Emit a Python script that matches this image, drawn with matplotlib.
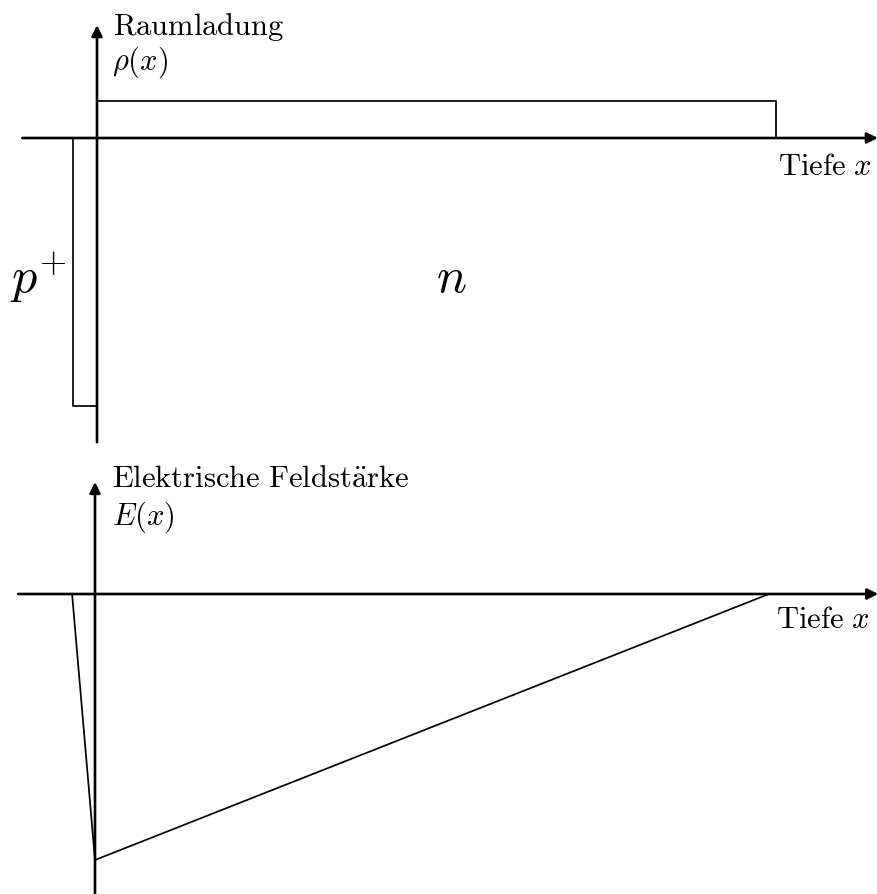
"""Raumladung und Feldstaerke eines p+n-Uebergangs (schematisch)."""
import matplotlib
matplotlib.use("Agg")
import matplotlib.pyplot as plt

plt.rcParams["mathtext.fontset"] = "cm"

# Raumladung rho(x), Tiefe in Einheiten der Weite der n-Zone
rho_n_x = [0.0, 0.0, 1.0, 1.0]
rho_n_y = [0.0, 1.0, 1.0, 0.0]
rho_p_x = [0.0, -0.035, -0.035]
rho_p_y = [-7.24, -7.24, 0.0]

# elektrische Feldstaerke E(x)
feld_x = [-0.034, 0.0, 1.0]
feld_y = [0.0, -1.0, 0.0]

AXIS_LW = 1.9
LINE_LW = 1.25
TXT = 22
BIG = 36


def axis_arrow(ax, start, tip):
    ax.annotate("", xy=tip, xytext=start,
                arrowprops=dict(arrowstyle="-|>", lw=AXIS_LW, color="k",
                                shrinkA=0, shrinkB=0, mutation_scale=16))


fig = plt.figure(figsize=(8.78, 8.94), dpi=100)

# --- oben: Raumladung ---
ax1 = fig.add_axes([0, 1 - 450 / 894, 1, 450 / 894])
ax1.set_xlim(-97 / 679, (878 - 97) / 679)
ax1.set_ylim((138 - 450) / 37, 138 / 37)
ax1.axis("off")
axis_arrow(ax1, (-0.110, 0), (1.150, 0))
axis_arrow(ax1, (0, -8.22), (0, 3.05))
ax1.plot(rho_n_x, rho_n_y, color="k", lw=LINE_LW)
ax1.plot(rho_p_x, rho_p_y, color="k", lw=LINE_LW)
ax1.text(0.024, 2.78, r"$\mathrm{Raumladung}$", fontsize=TXT, va="baseline")
ax1.text(0.022, 1.84, r"$\rho(x)$", fontsize=TXT, va="baseline")
ax1.text(1.003, -1.0, r"$\mathrm{Tiefe}\ x$", fontsize=TXT, va="baseline")
ax1.text(-0.128, -4.19, r"$p^{+}$", fontsize=BIG, va="baseline")
ax1.text(0.50, -4.16, r"$n$", fontsize=BIG, va="baseline")

# --- unten: elektrische Feldstaerke ---
ax2 = fig.add_axes([0, 0, 1, 444 / 894])
ax2.set_xlim(-95 / 674, (878 - 95) / 674)
ax2.set_ylim((594 - 894) / 266, (594 - 450) / 266)
ax2.axis("off")
axis_arrow(ax2, (-0.114, 0), (1.162, 0))
axis_arrow(ax2, (0, -1.128), (0, 0.421))
ax2.plot(feld_x, feld_y, color="k", lw=LINE_LW)
ax2.text(0.025, 0.402, r"$\mathrm{Elektrische\ Feldst\ddot{a}rke}$",
         fontsize=TXT, va="baseline")
ax2.text(0.025, 0.259, r"$E(x)$", fontsize=TXT, va="baseline")
ax2.text(1.010, -0.128, r"$\mathrm{Tiefe}\ x$", fontsize=TXT, va="baseline")

fig.savefig("out.png", dpi=100)
